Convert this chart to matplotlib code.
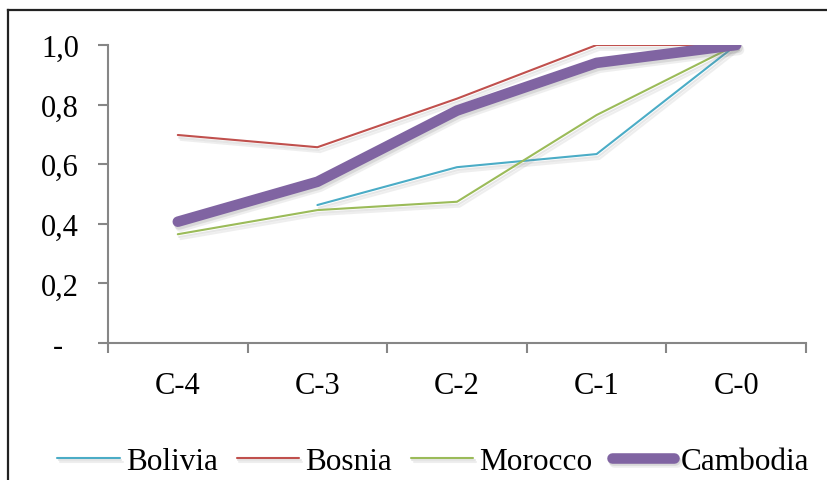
import numpy as np
import matplotlib.pyplot as plt
import matplotlib.patheffects as pe
from matplotlib.lines import Line2D
from matplotlib.ticker import FuncFormatter

categories = ["C-4", "C-3", "C-2", "C-1", "C-0"]
bolivia = [np.nan, 0.463, 0.59, 0.634, 1.0]
bosnia = [0.698, 0.657, 0.82, 1.0, 1.0]
morocco = [0.365, 0.446, 0.474, 0.765, 1.0]
cambodia = [0.407, 0.541, 0.78, 0.94, 1.0]

plt.rcParams['font.family'] = ['Liberation Serif', 'DejaVu Serif']

fig = plt.figure(figsize=(8.28, 4.81), dpi=100)
ax = fig.add_axes([108 / 828, 1 - 344 / 481, 698 / 828, 298 / 481])

x = np.arange(len(categories))
# soft drop shadow under every line
shadow = [pe.SimpleLineShadow(offset=(1, -2), shadow_color='#777777', alpha=0.18),
          pe.SimpleLineShadow(offset=(2, -3.5), shadow_color='#777777', alpha=0.12),
          pe.Normal()]

series = [
    ("Bolivia", bolivia, '#4BACC6', 1.5),
    ("Bosnia", bosnia, '#C0504D', 1.5),
    ("Morocco", morocco, '#9BBB59', 1.5),
    ("Cambodia", cambodia, '#8064A2', 7.6),
]
for name, vals, color, lw in series:
    ax.plot(x, vals, color=color, lw=lw, label=name, solid_capstyle='round',
            solid_joinstyle='round', path_effects=shadow)

ax.set_xlim(-0.5, len(categories) - 0.5)
ax.set_ylim(0, 1.0)

# category labels at centres, tick marks on the boundaries
ax.set_xticks(x)
ax.set_xticklabels(categories)
ax.set_xticks(np.arange(-0.5, len(categories)), minor=True)
ax.tick_params(axis='x', which='major', length=0, pad=20, labelsize=22)
ax.tick_params(axis='x', which='minor', length=7, width=1.5, color='#868686')

ax.set_yticks(np.arange(0, 1.01, 0.2))
ax.yaxis.set_major_formatter(FuncFormatter(
    lambda v, p: "-  " if abs(v) < 1e-9 else f"{v:.1f}".replace(".", ",")))
ax.tick_params(axis='y', length=7, width=1.5, color='#868686', pad=14, labelsize=22)

for side in ['top', 'right']:
    ax.spines[side].set_visible(False)
for side in ['left', 'bottom']:
    ax.spines[side].set_color('#868686')
    ax.spines[side].set_linewidth(1.5)

fig.legend(loc='center', bbox_to_anchor=(433 / 828, 1 - 462 / 481), ncol=4,
           frameon=False, fontsize=22.5, handlelength=2.0, handletextpad=0.2,
           columnspacing=0.6)

# outer frame on the left and top
fig.add_artist(Line2D([8 / 828, 8 / 828], [0, 1 - 11 / 481], color='#222222', lw=1.6))
fig.add_artist(Line2D([8 / 828, 1], [1 - 11 / 481, 1 - 11 / 481], color='#222222', lw=1.6))

fig.savefig("out.png", dpi=100)
